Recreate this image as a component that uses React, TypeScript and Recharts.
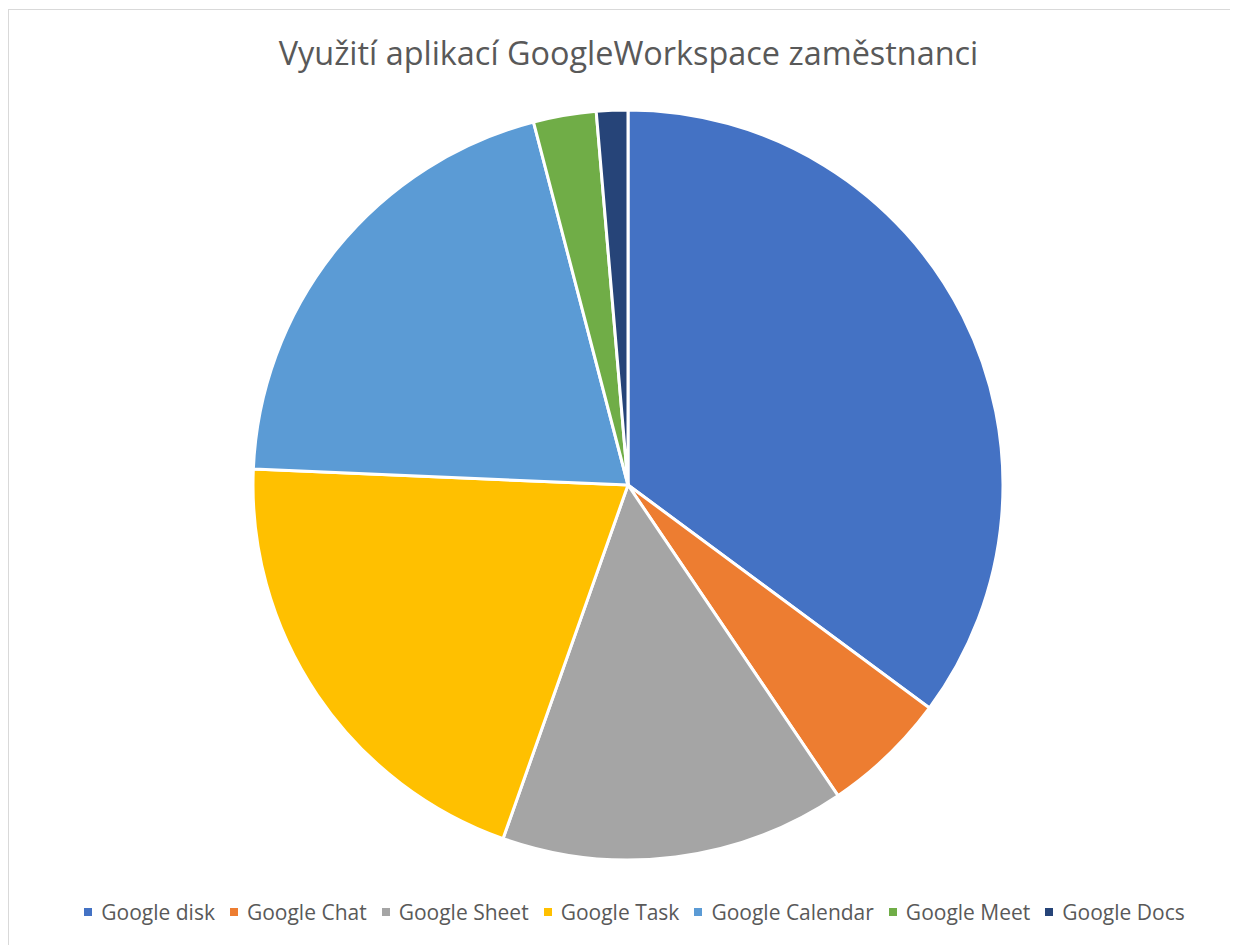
import { PieChart, Pie, Cell, Legend } from 'recharts';

const apps = ['Google disk', 'Google Chat', 'Google Sheet', 'Google Task', 'Google Calendar', 'Google Meet', 'Google Docs'];
const counts = [26, 4, 11, 15, 15, 2, 1];
const colors = ['#4472C4', '#ED7D31', '#A5A5A5', '#FFC000', '#5B9BD5', '#70AD47', '#264478'];

const data = apps.map((name, i) => ({ name, value: counts[i] }));

const FONT = '"Open Sans", "Liberation Sans", sans-serif';

function LegendContent() {
  return (
    <div style={{ display: 'flex', justifyContent: 'center', gap: 15, paddingLeft: 12, fontFamily: FONT, fontSize: 21, color: '#595959' }}>
      {apps.map((name, i) => (
        <span key={name} style={{ display: 'flex', alignItems: 'center' }}>
          <span style={{ width: 8, height: 8, background: colors[i], marginRight: 9, display: 'inline-block' }} />
          {name}
        </span>
      ))}
    </div>
  );
}

export default function App() {
  return (
    <div style={{ width: 1230, height: 937, overflow: 'hidden' }}>
      <style>{'body{overflow:hidden}'}</style>
      <div style={{ position: 'relative', width: 1241, height: 950, marginTop: 1, border: '1px solid #d9d9d9', background: '#fff', boxSizing: 'border-box' }}>
        <div style={{ position: 'absolute', top: 20, left: 0, width: '100%', textAlign: 'center', fontFamily: FONT, fontSize: 32.4, color: '#595959' }}>
          Využití aplikací GoogleWorkspace zaměstnanci
        </div>
        <PieChart width={1239} height={929}>
          <Pie
            data={data}
            dataKey="value"
            nameKey="name"
            cx={614}
            cy={470}
            outerRadius={375}
            startAngle={90}
            endAngle={-270}
            stroke="#fff"
            strokeWidth={3}
            isAnimationActive={false}
          >
            {data.map((d, i) => (
              <Cell key={d.name} fill={colors[i]} />
            ))}
          </Pie>
          <Legend verticalAlign="bottom" content={<LegendContent />} wrapperStyle={{ bottom: 13 }} />
        </PieChart>
      </div>
    </div>
  );
}
